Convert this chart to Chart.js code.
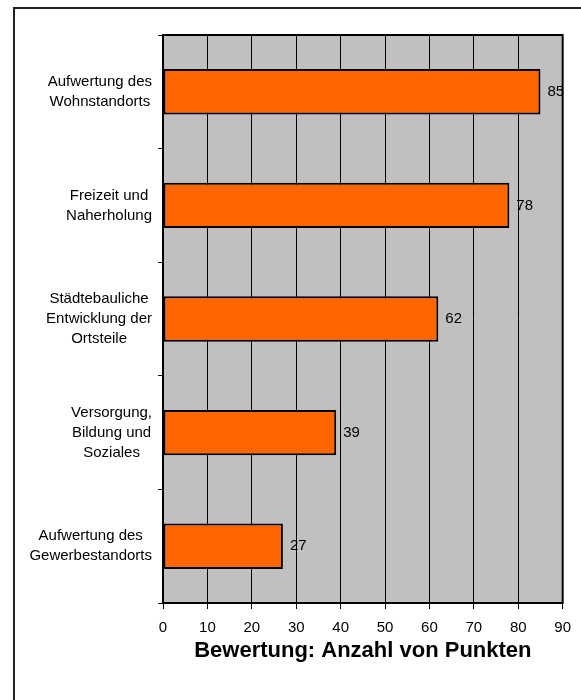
<!DOCTYPE html>
<html>
<head>
<meta charset="utf-8">
<script src="https://cdn.jsdelivr.net/npm/chart.js@4"></script>
<style>
  html, body { margin: 0; padding: 0; background: #fff; }
  #wrap { position: relative; width: 581px; height: 700px; }
</style>
</head>
<body>
<div id="wrap"><canvas id="chart" width="581" height="700"></canvas></div>
<script>
const categories = [
    ['Aufwertung des', 'Wohnstandorts'],
    ['Freizeit und', 'Naherholung'],
    ['Städtebauliche', 'Entwicklung der', 'Ortsteile'],
    ['Versorgung,', 'Bildung und', 'Soziales'],
    ['Aufwertung des', 'Gewerbestandorts']
];
const punkte = [85, 78, 62, 39, 27];
const xMin = 0;
const xMax = 90;
const xStep = 10;
const xTitle = 'Bewertung: Anzahl von Punkten';

const FONT = "'Liberation Sans', Arial, sans-serif";

// grauer Hintergrund, Rahmen und Beschriftungen
const plotStyle = {
    id: 'plotStyle',
    beforeDraw(chart) {
        const { ctx, chartArea: a } = chart;
        ctx.save();
        ctx.fillStyle = '#C0C0C0';
        ctx.fillRect(a.left, a.top, a.right - a.left, a.bottom - a.top);
        // äußerer Rahmen (nur links und oben sichtbar)
        ctx.strokeStyle = '#222';
        ctx.lineWidth = 2;
        ctx.beginPath();
        ctx.moveTo(14, 700);
        ctx.lineTo(14, 8);
        ctx.lineTo(590, 8);
        ctx.stroke();
        ctx.restore();
    },
    afterDatasetsDraw(chart) {
        const { ctx, chartArea: a } = chart;
        ctx.save();
        ctx.strokeStyle = '#000';
        ctx.lineWidth = 2;
        ctx.strokeRect(a.left, a.top, a.right - a.left, a.bottom - a.top);
        ctx.fillStyle = '#000';
        ctx.font = '15px ' + FONT;
        ctx.textAlign = 'left';
        ctx.textBaseline = 'middle';
        chart.getDatasetMeta(0).data.forEach((bar, i) => {
            ctx.fillText(String(punkte[i]), bar.x + 7, bar.y);
        });
        // Kategorien: jeder Block rechts am Achsenrand, Zeilen zentriert
        const y = chart.scales.y;
        ctx.textAlign = 'center';
        const lh = 20;
        categories.forEach((lines, i) => {
            const w = Math.max(...lines.map(t => ctx.measureText(t).width));
            const cx = a.left - 11 - w / 2;
            const cy = y.getPixelForTick(i);
            lines.forEach((t, k) => {
                ctx.fillText(t, cx, cy + (k - (lines.length - 1) / 2) * lh);
            });
        });
        ctx.restore();
    }
};

new Chart(document.getElementById('chart'), {
    type: 'bar',
    data: {
        labels: categories,
        datasets: [{
            data: punkte,
            backgroundColor: '#FF6600',
            borderColor: '#000',
            borderWidth: 2,
            borderSkipped: false,
            categoryPercentage: 1,
            barPercentage: 0.4
        }]
    },
    options: {
        indexAxis: 'y',
        responsive: false,
        animation: false,
        layout: { padding: { top: 35, right: 18, left: 0, bottom: 0 } },
        plugins: {
            legend: { display: false },
            tooltip: { enabled: false }
        },
        scales: {
            x: {
                min: xMin,
                max: xMax,
                afterFit(s) { s.height = 97; },
                ticks: {
                    stepSize: xStep,
                    color: '#000',
                    font: { family: FONT, size: 15 },
                    padding: 10
                },
                grid: {
                    color: '#000',
                    lineWidth: 1,
                    tickLength: 6,
                    tickColor: '#000'
                },
                border: { display: true, color: '#000', width: 2 },
                title: {
                    display: true,
                    text: xTitle,
                    color: '#000',
                    font: { family: FONT, size: 22, weight: 'bold' },
                    padding: { top: 0, bottom: 36 }
                }
            },
            y: {
                afterFit(s) { s.width = 163; },
                ticks: { display: false },
                grid: {
                    drawOnChartArea: false,
                    drawTicks: true,
                    tickLength: 5,
                    offset: true,
                    color: '#000',
                    tickColor: '#000'
                },
                border: { display: true, color: '#000', width: 2 }
            }
        }
    },
    plugins: [plotStyle]
});
</script>
</body>
</html>
